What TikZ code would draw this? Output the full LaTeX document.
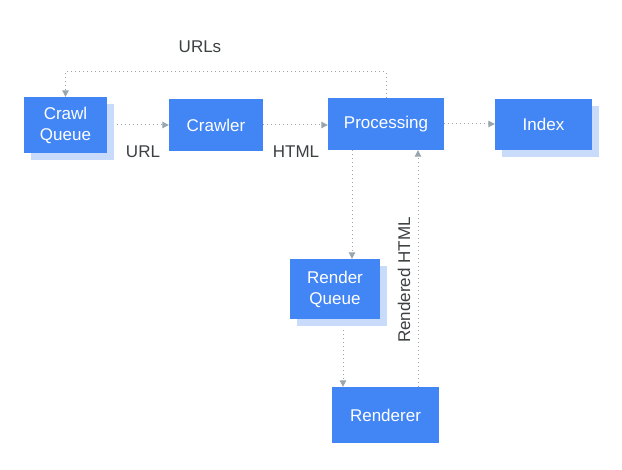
\documentclass[tikz,border=0pt]{standalone}
\usepackage{fontspec}
\setmainfont{Liberation Sans}
\usetikzlibrary{arrows.meta,shadows}
\definecolor{gblue}{HTML}{4285F4}
\definecolor{gshadow}{HTML}{C9DBFB}
\definecolor{garrow}{HTML}{9AA6AE}
\definecolor{gtext}{HTML}{3C4043}
\tikzset{
  box/.style={fill=gblue, draw=none, text=white, font=\fontsize{17}{21}\selectfont, align=center, inner sep=0pt},
  shadowed/.style={drop shadow={shadow xshift=7pt, shadow yshift=-7pt, fill=gshadow, opacity=1}},
  flow/.style={draw=garrow, line width=1pt, dash pattern=on 1pt off 3pt, -{Triangle[width=6.5pt,length=6.5pt]}},
  lbl/.style={text=gtext, font=\fontsize{17}{21}\selectfont, inner sep=0pt}
}
\begin{document}
\begin{tikzpicture}[x=1pt,y=-1pt]
\useasboundingbox[fill=white] (0,0) rectangle (622,470);
\node[box, shadowed, minimum width=83pt, minimum height=56pt] (cq) at (65.5,125) {Crawl\\Queue};
\node[box, minimum width=94pt, minimum height=52pt] (cr) at (216,125) {Crawler};
\node[box, minimum width=116pt, minimum height=52pt] (pr) at (386,124) {Processing};
\node[box, shadowed, minimum width=97pt, minimum height=51pt] (ix) at (543.5,124.5) {Index};
\node[box, shadowed, minimum width=90pt, minimum height=60pt] (rq) at (335,289) {Render\\Queue};
\node[box, minimum width=107pt, minimum height=56pt] (rd) at (385.5,415) {Renderer};

\draw[flow] ([xshift=10pt]cq.east) -- (cr.west);
\draw[flow] (cr.east) -- (pr.west |- cr.east);
\draw[flow] (pr.east) -- (ix.west |- pr.east);
\draw[flow] (pr.north) -- ++(0,-26) coordinate (turn) -| (cq.north);
\draw[flow] ([xshift=-34pt]pr.south) -- ([xshift=17pt]rq.north);
\draw[flow] ([xshift=8pt,yshift=-11pt]rq.south) -- ([xshift=-42.5pt]rd.north);
\draw[flow] ([xshift=32.5pt]rd.north) -- ([xshift=32pt]pr.south);

\node[lbl] (lurls) at (200,47) {URLs};
\node[lbl] (lurl) at (143,152) {URL};
\node[lbl] (lhtml) at (296,152) {HTML};
\node[lbl, rotate=90] (lrh) at (404,280) {Rendered HTML};
\end{tikzpicture}
\end{document}
